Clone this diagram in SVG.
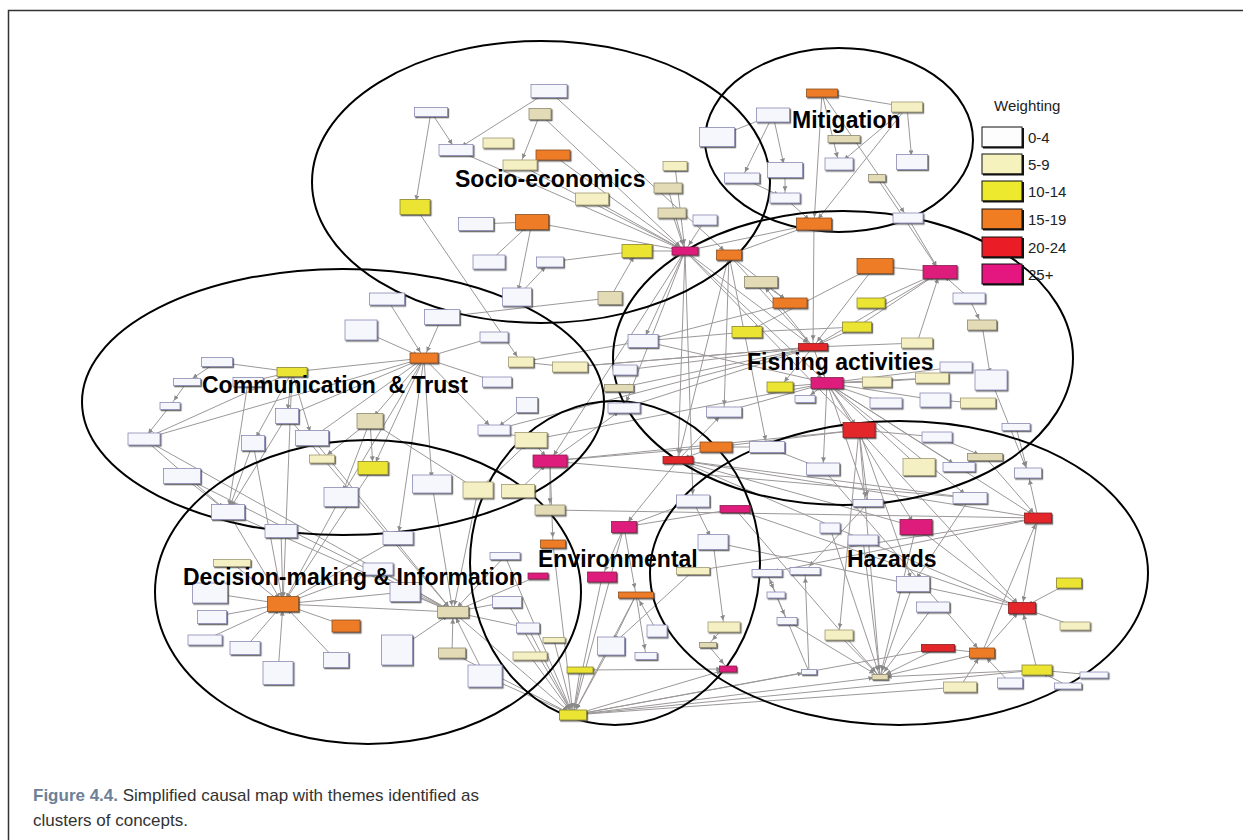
<svg xmlns="http://www.w3.org/2000/svg" width="1243" height="840" viewBox="0 0 1243 840">
<style>
.e line{stroke:#9c9898;stroke-width:1;marker-end:url(#ah)}
.node rect{stroke-width:0.8;filter:url(#sh)}
.n0{fill:#f6f6fd;stroke:#8b8bb3}
.n1{fill:#f4f0c4;stroke:#a09a72}
.nt{fill:#e3dbb6;stroke:#8e8a70}
.n2{fill:#ebe433;stroke:#8a8530}
.n3{fill:#ee7b25;stroke:#8a5020}
.n4{fill:#e3262b;stroke:#8a2020}
.n5{fill:#de1e7c;stroke:#8a2050}
.cl{fill:none;stroke:#000;stroke-width:2}
.lab{font-family:"Liberation Sans",Arial,sans-serif;font-weight:bold;font-size:23px;fill:#000}
.lg{font-family:"Liberation Sans",Arial,sans-serif;font-size:15px;fill:#222}
.lb{stroke:#111;stroke-width:1}
.cap{font-family:"Liberation Sans",Arial,sans-serif;font-size:17px;fill:#333}
</style>
<defs>
<filter id="sh" x="-20%" y="-30%" width="150%" height="180%">
<feDropShadow dx="1.2" dy="1.3" stdDeviation="0.4" flood-color="#444" flood-opacity="0.8"/>
</filter>
<marker id="ah" viewBox="0 0 6 6" refX="14" refY="3" markerWidth="5" markerHeight="5" markerUnits="userSpaceOnUse" orient="auto"><path d="M0,0L6,3L0,6z" fill="#8a8a8a"/></marker>
</defs>
<rect width="1243" height="840" fill="#fff"/>
<path d="M8.5,840V10.5H1243" fill="none" stroke="#333" stroke-width="1.5"/>

<g id="connectors" class="e">
<line x1="431" y1="112" x2="415" y2="207"/>
<line x1="431" y1="112" x2="456" y2="150"/>
<line x1="549" y1="91" x2="456" y2="150"/>
<line x1="540" y1="114" x2="520" y2="165"/>
<line x1="540" y1="114" x2="685" y2="251"/>
<line x1="549" y1="91" x2="729" y2="255"/>
<line x1="456" y1="150" x2="685" y2="251"/>
<line x1="553" y1="155" x2="685" y2="251"/>
<line x1="520" y1="165" x2="685" y2="251"/>
<line x1="592" y1="199" x2="685" y2="251"/>
<line x1="476" y1="224" x2="532" y2="222"/>
<line x1="532" y1="222" x2="685" y2="251"/>
<line x1="415" y1="207" x2="521" y2="362"/>
<line x1="532" y1="222" x2="517" y2="297"/>
<line x1="489" y1="262" x2="532" y2="222"/>
<line x1="550" y1="262" x2="637" y2="251"/>
<line x1="517" y1="297" x2="550" y2="262"/>
<line x1="610" y1="298" x2="442" y2="317"/>
<line x1="610" y1="298" x2="637" y2="251"/>
<line x1="675" y1="166" x2="685" y2="251"/>
<line x1="668" y1="188" x2="685" y2="251"/>
<line x1="672" y1="213" x2="685" y2="251"/>
<line x1="637" y1="251" x2="685" y2="251"/>
<line x1="685" y1="251" x2="813" y2="347"/>
<line x1="685" y1="251" x2="827" y2="383"/>
<line x1="685" y1="251" x2="678" y2="460"/>
<line x1="685" y1="251" x2="643" y2="341"/>
<line x1="685" y1="251" x2="693" y2="501"/>
<line x1="685" y1="251" x2="859" y2="430"/>
<line x1="685" y1="251" x2="624" y2="408"/>
<line x1="685" y1="251" x2="550" y2="461"/>
<line x1="729" y1="255" x2="724" y2="412"/>
<line x1="729" y1="255" x2="678" y2="460"/>
<line x1="729" y1="255" x2="790" y2="303"/>
<line x1="729" y1="255" x2="813" y2="347"/>
<line x1="729" y1="255" x2="767" y2="447"/>
<line x1="814" y1="224" x2="813" y2="347"/>
<line x1="822" y1="93" x2="814" y2="224"/>
<line x1="822" y1="93" x2="907" y2="107"/>
<line x1="822" y1="93" x2="839" y2="164"/>
<line x1="822" y1="93" x2="908" y2="218"/>
<line x1="907" y1="107" x2="912" y2="162"/>
<line x1="907" y1="107" x2="839" y2="164"/>
<line x1="907" y1="107" x2="814" y2="224"/>
<line x1="773" y1="115" x2="717" y2="137"/>
<line x1="773" y1="115" x2="742" y2="178"/>
<line x1="773" y1="115" x2="785" y2="170"/>
<line x1="785" y1="170" x2="785" y2="198"/>
<line x1="742" y1="178" x2="785" y2="198"/>
<line x1="785" y1="198" x2="814" y2="224"/>
<line x1="877" y1="178" x2="940" y2="272"/>
<line x1="814" y1="224" x2="685" y2="251"/>
<line x1="814" y1="224" x2="729" y2="255"/>
<line x1="908" y1="218" x2="940" y2="272"/>
<line x1="705" y1="220" x2="685" y2="251"/>
<line x1="875" y1="266" x2="940" y2="272"/>
<line x1="875" y1="266" x2="813" y2="347"/>
<line x1="875" y1="266" x2="747" y2="332"/>
<line x1="871" y1="303" x2="940" y2="272"/>
<line x1="857" y1="327" x2="940" y2="272"/>
<line x1="917" y1="343" x2="940" y2="272"/>
<line x1="940" y1="272" x2="813" y2="347"/>
<line x1="969" y1="298" x2="940" y2="272"/>
<line x1="761" y1="282" x2="790" y2="303"/>
<line x1="790" y1="303" x2="643" y2="341"/>
<line x1="747" y1="332" x2="643" y2="341"/>
<line x1="857" y1="327" x2="747" y2="332"/>
<line x1="857" y1="327" x2="813" y2="347"/>
<line x1="917" y1="343" x2="813" y2="347"/>
<line x1="813" y1="347" x2="625" y2="370"/>
<line x1="813" y1="347" x2="570" y2="367"/>
<line x1="813" y1="347" x2="624" y2="408"/>
<line x1="813" y1="347" x2="619" y2="388"/>
<line x1="813" y1="347" x2="827" y2="383"/>
<line x1="813" y1="347" x2="780" y2="387"/>
<line x1="813" y1="347" x2="761" y2="282"/>
<line x1="982" y1="325" x2="991" y2="380"/>
<line x1="969" y1="298" x2="982" y2="325"/>
<line x1="877" y1="382" x2="827" y2="383"/>
<line x1="932" y1="378" x2="827" y2="383"/>
<line x1="956" y1="367" x2="827" y2="383"/>
<line x1="827" y1="383" x2="805" y2="399"/>
<line x1="827" y1="383" x2="886" y2="403"/>
<line x1="827" y1="383" x2="935" y2="400"/>
<line x1="827" y1="383" x2="823" y2="469"/>
<line x1="827" y1="383" x2="859" y2="430"/>
<line x1="827" y1="383" x2="916" y2="527"/>
<line x1="827" y1="383" x2="919" y2="467"/>
<line x1="827" y1="383" x2="959" y2="467"/>
<line x1="827" y1="383" x2="868" y2="503"/>
<line x1="827" y1="383" x2="724" y2="412"/>
<line x1="780" y1="387" x2="827" y2="383"/>
<line x1="827" y1="383" x2="643" y2="341"/>
<line x1="827" y1="383" x2="970" y2="498"/>
<line x1="827" y1="383" x2="1038" y2="518"/>
<line x1="932" y1="378" x2="877" y2="382"/>
<line x1="978" y1="403" x2="935" y2="400"/>
<line x1="991" y1="380" x2="1028" y2="473"/>
<line x1="859" y1="430" x2="913" y2="584"/>
<line x1="859" y1="430" x2="880" y2="677"/>
<line x1="859" y1="430" x2="868" y2="503"/>
<line x1="716" y1="447" x2="859" y2="430"/>
<line x1="859" y1="430" x2="839" y2="635"/>
<line x1="716" y1="447" x2="767" y2="447"/>
<line x1="767" y1="447" x2="823" y2="469"/>
<line x1="716" y1="447" x2="678" y2="460"/>
<line x1="1016" y1="427" x2="1028" y2="473"/>
<line x1="937" y1="437" x2="985" y2="457"/>
<line x1="937" y1="437" x2="859" y2="430"/>
<line x1="678" y1="460" x2="1038" y2="518"/>
<line x1="678" y1="460" x2="1022" y2="608"/>
<line x1="678" y1="460" x2="916" y2="527"/>
<line x1="678" y1="460" x2="970" y2="498"/>
<line x1="678" y1="460" x2="724" y2="412"/>
<line x1="550" y1="461" x2="859" y2="430"/>
<line x1="550" y1="461" x2="970" y2="498"/>
<line x1="531" y1="440" x2="827" y2="383"/>
<line x1="494" y1="430" x2="813" y2="347"/>
<line x1="550" y1="461" x2="716" y2="447"/>
<line x1="521" y1="362" x2="643" y2="341"/>
<line x1="570" y1="367" x2="813" y2="347"/>
<line x1="387" y1="299" x2="424" y2="358"/>
<line x1="442" y1="317" x2="424" y2="358"/>
<line x1="361" y1="330" x2="424" y2="358"/>
<line x1="292" y1="372" x2="424" y2="358"/>
<line x1="424" y1="358" x2="144" y2="439"/>
<line x1="424" y1="358" x2="287" y2="416"/>
<line x1="424" y1="358" x2="312" y2="438"/>
<line x1="424" y1="358" x2="370" y2="421"/>
<line x1="424" y1="358" x2="341" y2="497"/>
<line x1="424" y1="358" x2="494" y2="430"/>
<line x1="424" y1="358" x2="432" y2="484"/>
<line x1="497" y1="382" x2="424" y2="358"/>
<line x1="494" y1="337" x2="424" y2="358"/>
<line x1="424" y1="358" x2="373" y2="468"/>
<line x1="424" y1="358" x2="398" y2="538"/>
<line x1="521" y1="362" x2="570" y2="367"/>
<line x1="527" y1="405" x2="494" y2="430"/>
<line x1="494" y1="430" x2="531" y2="440"/>
<line x1="292" y1="372" x2="217" y2="362"/>
<line x1="292" y1="372" x2="248" y2="382"/>
<line x1="292" y1="372" x2="144" y2="439"/>
<line x1="292" y1="372" x2="287" y2="416"/>
<line x1="292" y1="372" x2="253" y2="443"/>
<line x1="292" y1="372" x2="312" y2="438"/>
<line x1="217" y1="362" x2="187" y2="382"/>
<line x1="187" y1="382" x2="170" y2="406"/>
<line x1="170" y1="406" x2="144" y2="439"/>
<line x1="144" y1="439" x2="228" y2="512"/>
<line x1="182" y1="476" x2="228" y2="512"/>
<line x1="253" y1="443" x2="228" y2="512"/>
<line x1="287" y1="416" x2="228" y2="512"/>
<line x1="370" y1="421" x2="322" y2="459"/>
<line x1="370" y1="421" x2="373" y2="468"/>
<line x1="370" y1="421" x2="478" y2="490"/>
<line x1="370" y1="421" x2="341" y2="497"/>
<line x1="432" y1="484" x2="453" y2="612"/>
<line x1="478" y1="490" x2="531" y2="440"/>
<line x1="518" y1="491" x2="550" y2="461"/>
<line x1="248" y1="382" x2="228" y2="512"/>
<line x1="281" y1="531" x2="283" y2="604"/>
<line x1="232" y1="563" x2="283" y2="604"/>
<line x1="210" y1="593" x2="283" y2="604"/>
<line x1="212" y1="617" x2="283" y2="604"/>
<line x1="205" y1="640" x2="283" y2="604"/>
<line x1="245" y1="648" x2="283" y2="604"/>
<line x1="278" y1="673" x2="283" y2="604"/>
<line x1="336" y1="660" x2="283" y2="604"/>
<line x1="346" y1="626" x2="283" y2="604"/>
<line x1="378" y1="569" x2="283" y2="604"/>
<line x1="398" y1="538" x2="283" y2="604"/>
<line x1="228" y1="512" x2="283" y2="604"/>
<line x1="253" y1="443" x2="283" y2="604"/>
<line x1="283" y1="604" x2="453" y2="612"/>
<line x1="405" y1="592" x2="283" y2="604"/>
<line x1="373" y1="468" x2="283" y2="604"/>
<line x1="341" y1="497" x2="283" y2="604"/>
<line x1="292" y1="372" x2="283" y2="604"/>
<line x1="452" y1="653" x2="453" y2="612"/>
<line x1="397" y1="650" x2="453" y2="612"/>
<line x1="485" y1="676" x2="453" y2="612"/>
<line x1="405" y1="592" x2="453" y2="612"/>
<line x1="287" y1="416" x2="453" y2="612"/>
<line x1="312" y1="438" x2="453" y2="612"/>
<line x1="505" y1="556" x2="453" y2="612"/>
<line x1="507" y1="602" x2="453" y2="612"/>
<line x1="528" y1="628" x2="453" y2="612"/>
<line x1="144" y1="439" x2="453" y2="612"/>
<line x1="182" y1="476" x2="453" y2="612"/>
<line x1="478" y1="490" x2="453" y2="612"/>
<line x1="378" y1="569" x2="453" y2="612"/>
<line x1="228" y1="512" x2="453" y2="612"/>
<line x1="538" y1="576" x2="453" y2="612"/>
<line x1="550" y1="461" x2="553" y2="544"/>
<line x1="550" y1="461" x2="550" y2="510"/>
<line x1="550" y1="461" x2="624" y2="408"/>
<line x1="531" y1="440" x2="550" y2="461"/>
<line x1="507" y1="602" x2="573" y2="715"/>
<line x1="528" y1="628" x2="573" y2="715"/>
<line x1="530" y1="656" x2="573" y2="715"/>
<line x1="611" y1="646" x2="573" y2="715"/>
<line x1="580" y1="670" x2="573" y2="715"/>
<line x1="485" y1="676" x2="573" y2="715"/>
<line x1="453" y1="612" x2="573" y2="715"/>
<line x1="602" y1="577" x2="573" y2="715"/>
<line x1="636" y1="595" x2="573" y2="715"/>
<line x1="573" y1="715" x2="728" y2="669"/>
<line x1="573" y1="715" x2="880" y2="677"/>
<line x1="573" y1="715" x2="938" y2="648"/>
<line x1="573" y1="715" x2="1037" y2="670"/>
<line x1="573" y1="715" x2="809" y2="672"/>
<line x1="554" y1="640" x2="573" y2="715"/>
<line x1="553" y1="544" x2="573" y2="715"/>
<line x1="624" y1="527" x2="573" y2="715"/>
<line x1="505" y1="556" x2="573" y2="715"/>
<line x1="452" y1="653" x2="573" y2="715"/>
<line x1="573" y1="715" x2="960" y2="687"/>
<line x1="624" y1="527" x2="602" y2="577"/>
<line x1="624" y1="527" x2="636" y2="595"/>
<line x1="693" y1="501" x2="624" y2="527"/>
<line x1="678" y1="460" x2="624" y2="527"/>
<line x1="693" y1="501" x2="713" y2="542"/>
<line x1="713" y1="542" x2="724" y2="627"/>
<line x1="693" y1="571" x2="611" y2="646"/>
<line x1="636" y1="595" x2="611" y2="646"/>
<line x1="636" y1="595" x2="646" y2="656"/>
<line x1="657" y1="631" x2="636" y2="595"/>
<line x1="724" y1="627" x2="708" y2="645"/>
<line x1="708" y1="645" x2="728" y2="669"/>
<line x1="580" y1="670" x2="728" y2="669"/>
<line x1="735" y1="509" x2="624" y2="527"/>
<line x1="693" y1="571" x2="1038" y2="518"/>
<line x1="550" y1="510" x2="1038" y2="518"/>
<line x1="787" y1="621" x2="880" y2="677"/>
<line x1="913" y1="584" x2="880" y2="677"/>
<line x1="863" y1="540" x2="880" y2="677"/>
<line x1="938" y1="648" x2="880" y2="677"/>
<line x1="982" y1="653" x2="880" y2="677"/>
<line x1="839" y1="635" x2="880" y2="677"/>
<line x1="933" y1="607" x2="880" y2="677"/>
<line x1="830" y1="528" x2="880" y2="677"/>
<line x1="735" y1="509" x2="880" y2="677"/>
<line x1="809" y1="672" x2="805" y2="571"/>
<line x1="809" y1="672" x2="767" y2="573"/>
<line x1="767" y1="573" x2="776" y2="595"/>
<line x1="776" y1="595" x2="787" y2="621"/>
<line x1="1069" y1="583" x2="1022" y2="608"/>
<line x1="1075" y1="626" x2="1022" y2="608"/>
<line x1="1038" y1="518" x2="1022" y2="608"/>
<line x1="982" y1="653" x2="1022" y2="608"/>
<line x1="1037" y1="670" x2="1022" y2="608"/>
<line x1="916" y1="527" x2="1022" y2="608"/>
<line x1="1022" y1="608" x2="735" y2="509"/>
<line x1="982" y1="653" x2="938" y2="648"/>
<line x1="960" y1="687" x2="982" y2="653"/>
<line x1="1010" y1="683" x2="982" y2="653"/>
<line x1="982" y1="653" x2="1038" y2="518"/>
<line x1="823" y1="469" x2="982" y2="653"/>
<line x1="1094" y1="675" x2="1037" y2="670"/>
<line x1="1068" y1="686" x2="1037" y2="670"/>
<line x1="1037" y1="670" x2="880" y2="677"/>
<line x1="1038" y1="518" x2="767" y2="573"/>
<line x1="1038" y1="518" x2="1028" y2="473"/>
<line x1="985" y1="457" x2="1038" y2="518"/>
<line x1="916" y1="527" x2="880" y2="677"/>
<line x1="868" y1="503" x2="805" y2="571"/>
<line x1="970" y1="498" x2="913" y2="584"/>
<line x1="859" y1="430" x2="1022" y2="608"/>
<line x1="713" y1="542" x2="1022" y2="608"/>
</g>

<g id="clusters">
<ellipse class="cl" cx="541" cy="182" rx="229" ry="141"/>
<ellipse class="cl" cx="839" cy="140" rx="134" ry="92"/>
<ellipse class="cl" cx="343" cy="402" rx="261" ry="133"/>
<ellipse class="cl" cx="843" cy="358" rx="230" ry="147"/>
<ellipse class="cl" cx="368" cy="592" rx="213" ry="152"/>
<ellipse class="cl" cx="615" cy="563" rx="145" ry="162"/>
<ellipse class="cl" cx="899" cy="573" rx="249" ry="152"/>
</g>

<g id="nodes">
<g id="s1" class="node" transform="translate(549,91)"><rect class="n0" x="-18" y="-6.5" width="36" height="13"/></g>
<g id="s2" class="node" transform="translate(431,112)"><rect class="n0" x="-16.5" y="-4.5" width="33" height="9"/></g>
<g id="s3" class="node" transform="translate(540,114)"><rect class="nt" x="-11" y="-5.5" width="22" height="11"/></g>
<g id="s4" class="node" transform="translate(456,150)"><rect class="n0" x="-17" y="-5.5" width="34" height="11"/></g>
<g id="s5" class="node" transform="translate(498,143)"><rect class="n1" x="-15" y="-5" width="30" height="10"/></g>
<g id="s6" class="node" transform="translate(553,155)"><rect class="n3" x="-17" y="-5" width="34" height="10"/></g>
<g id="s7" class="node" transform="translate(520,165)"><rect class="n1" x="-17" y="-5" width="34" height="10"/></g>
<g id="s8" class="node" transform="translate(415,207)"><rect class="n2" x="-15" y="-7.5" width="30" height="15"/></g>
<g id="s9" class="node" transform="translate(476,224)"><rect class="n0" x="-17.5" y="-6.5" width="35" height="13"/></g>
<g id="s10" class="node" transform="translate(532,222)"><rect class="n3" x="-16.5" y="-7.5" width="33" height="15"/></g>
<g id="s11" class="node" transform="translate(592,199)"><rect class="n1" x="-16.5" y="-6" width="33" height="12"/></g>
<g id="s12" class="node" transform="translate(675,166)"><rect class="n1" x="-12" y="-4.5" width="24" height="9"/></g>
<g id="s13" class="node" transform="translate(668,188)"><rect class="nt" x="-14" y="-5" width="28" height="10"/></g>
<g id="s14" class="node" transform="translate(672,213)"><rect class="nt" x="-14" y="-5" width="28" height="10"/></g>
<g id="s15" class="node" transform="translate(489,262)"><rect class="n0" x="-16" y="-7" width="32" height="14"/></g>
<g id="s16" class="node" transform="translate(550,262)"><rect class="n0" x="-13.5" y="-5" width="27" height="10"/></g>
<g id="s17" class="node" transform="translate(517,297)"><rect class="n0" x="-14.5" y="-9" width="29" height="18"/></g>
<g id="s18" class="node" transform="translate(610,298)"><rect class="nt" x="-12" y="-6.5" width="24" height="13"/></g>
<g id="s19" class="node" transform="translate(637,251)"><rect class="n2" x="-15" y="-6.5" width="30" height="13"/></g>
<g id="h1hub" class="node" transform="translate(685,251)"><rect class="n5" x="-13" y="-4" width="26" height="8"/></g>

<g id="m1" class="node" transform="translate(822,93)"><rect class="n3" x="-15.5" y="-4" width="31" height="8"/></g>
<g id="m2" class="node" transform="translate(907,107)"><rect class="n1" x="-15.5" y="-5" width="31" height="10"/></g>
<g id="m3" class="node" transform="translate(773,115)"><rect class="n0" x="-16.5" y="-7" width="33" height="14"/></g>
<g id="m4" class="node" transform="translate(717,137)"><rect class="n0" x="-17.5" y="-9.5" width="35" height="19"/></g>
<g id="m5" class="node" transform="translate(844,139)"><rect class="nt" x="-16" y="-3.5" width="32" height="7"/></g>
<g id="m6" class="node" transform="translate(839,164)"><rect class="n0" x="-14" y="-6" width="28" height="12"/></g>
<g id="m7" class="node" transform="translate(912,162)"><rect class="n0" x="-15.5" y="-7.5" width="31" height="15"/></g>
<g id="m8" class="node" transform="translate(785,170)"><rect class="n0" x="-17.5" y="-7.5" width="35" height="15"/></g>
<g id="m9" class="node" transform="translate(877,178)"><rect class="nt" x="-8.5" y="-3.5" width="17" height="7"/></g>
<g id="m10" class="node" transform="translate(742,178)"><rect class="n0" x="-17.5" y="-5" width="35" height="10"/></g>
<g id="m11" class="node" transform="translate(785,198)"><rect class="n0" x="-15" y="-5" width="30" height="10"/></g>
<g id="m12" class="node" transform="translate(705,220)"><rect class="n0" x="-12" y="-5" width="24" height="10"/></g>
<g id="m13" class="node" transform="translate(908,218)"><rect class="n0" x="-15" y="-5" width="30" height="10"/></g>
<g id="m14" class="node" transform="translate(814,224)"><rect class="n3" x="-17.5" y="-6" width="35" height="12"/></g>

<g id="f1" class="node" transform="translate(729,255)"><rect class="n3" x="-12.5" y="-5" width="25" height="10"/></g>
<g id="f2" class="node" transform="translate(875,266)"><rect class="n3" x="-18" y="-7.5" width="36" height="15"/></g>
<g id="f3" class="node" transform="translate(940,272)"><rect class="n5" x="-17" y="-6.5" width="34" height="13"/></g>
<g id="f4" class="node" transform="translate(761,282)"><rect class="nt" x="-16.5" y="-5.5" width="33" height="11"/></g>
<g id="f5" class="node" transform="translate(790,303)"><rect class="n3" x="-17" y="-5" width="34" height="10"/></g>
<g id="f6" class="node" transform="translate(871,303)"><rect class="n2" x="-14" y="-5" width="28" height="10"/></g>
<g id="f7" class="node" transform="translate(969,298)"><rect class="n0" x="-16" y="-5" width="32" height="10"/></g>
<g id="f8" class="node" transform="translate(982,325)"><rect class="nt" x="-14.5" y="-5" width="29" height="10"/></g>
<g id="f9" class="node" transform="translate(747,332)"><rect class="n2" x="-15" y="-5.5" width="30" height="11"/></g>
<g id="f10" class="node" transform="translate(857,327)"><rect class="n2" x="-14.5" y="-5" width="29" height="10"/></g>
<g id="f11" class="node" transform="translate(643,341)"><rect class="n0" x="-15" y="-6.5" width="30" height="13"/></g>
<g id="f12" class="node" transform="translate(917,343)"><rect class="n1" x="-15.5" y="-5" width="31" height="10"/></g>
<g id="fhub" class="node" transform="translate(813,347)"><rect class="n4" x="-14.5" y="-3.5" width="29" height="7"/></g>
<g id="f13" class="node" transform="translate(625,370)"><rect class="n0" x="-12" y="-5" width="24" height="10"/></g>
<g id="f14" class="node" transform="translate(956,367)"><rect class="n0" x="-16" y="-5" width="32" height="10"/></g>
<g id="f15" class="node" transform="translate(991,380)"><rect class="n0" x="-16" y="-10" width="32" height="20"/></g>
<g id="f16" class="node" transform="translate(932,378)"><rect class="n1" x="-16.5" y="-5" width="33" height="10"/></g>
<g id="f17" class="node" transform="translate(877,382)"><rect class="n1" x="-14.5" y="-5" width="29" height="10"/></g>
<g id="fmhub" class="node" transform="translate(827,383)"><rect class="n5" x="-16" y="-5.5" width="32" height="11"/></g>
<g id="f18" class="node" transform="translate(780,387)"><rect class="n2" x="-13" y="-5" width="26" height="10"/></g>
<g id="f19" class="node" transform="translate(805,399)"><rect class="n0" x="-10" y="-3.5" width="20" height="7"/></g>
<g id="f20" class="node" transform="translate(886,403)"><rect class="n0" x="-16" y="-5" width="32" height="10"/></g>
<g id="f21" class="node" transform="translate(935,400)"><rect class="n0" x="-15" y="-7" width="30" height="14"/></g>
<g id="f22" class="node" transform="translate(978,403)"><rect class="n1" x="-17.5" y="-5" width="35" height="10"/></g>
<g id="f23" class="node" transform="translate(724,412)"><rect class="n0" x="-17.5" y="-5" width="35" height="10"/></g>
<g id="f24" class="node" transform="translate(624,408)"><rect class="n0" x="-16" y="-5" width="32" height="10"/></g>
<g id="f25" class="node" transform="translate(619,388)"><rect class="nt" x="-14.5" y="-3.5" width="29" height="7"/></g>
<g id="frhub" class="node" transform="translate(859,430)"><rect class="n4" x="-16" y="-7.5" width="32" height="15"/></g>
<g id="f26" class="node" transform="translate(937,437)"><rect class="n0" x="-15" y="-5" width="30" height="10"/></g>
<g id="f27" class="node" transform="translate(716,447)"><rect class="n3" x="-16" y="-5" width="32" height="10"/></g>
<g id="f28" class="node" transform="translate(767,447)"><rect class="n0" x="-17.5" y="-5.5" width="35" height="11"/></g>
<g id="f29" class="node" transform="translate(985,457)"><rect class="nt" x="-17.5" y="-3.5" width="35" height="7"/></g>
<g id="f30" class="node" transform="translate(823,469)"><rect class="n0" x="-16.5" y="-6" width="33" height="12"/></g>
<g id="f31" class="node" transform="translate(919,467)"><rect class="n1" x="-16" y="-8.5" width="32" height="17"/></g>
<g id="f32" class="node" transform="translate(959,467)"><rect class="n0" x="-16" y="-4.5" width="32" height="9"/></g>
<g id="f33" class="node" transform="translate(1016,427)"><rect class="n0" x="-14" y="-3.5" width="28" height="7"/></g>
<g id="f34" class="node" transform="translate(1028,473)"><rect class="n0" x="-13.5" y="-5" width="27" height="10"/></g>

<g id="c1" class="node" transform="translate(387,299)"><rect class="n0" x="-17.5" y="-6" width="35" height="12"/></g>
<g id="c2" class="node" transform="translate(442,317)"><rect class="n0" x="-17.5" y="-7.5" width="35" height="15"/></g>
<g id="c3" class="node" transform="translate(361,330)"><rect class="n0" x="-16" y="-10" width="32" height="20"/></g>
<g id="chub" class="node" transform="translate(424,358)"><rect class="n3" x="-14" y="-5" width="28" height="10"/></g>
<g id="c4" class="node" transform="translate(494,337)"><rect class="n0" x="-14" y="-5" width="28" height="10"/></g>
<g id="c5" class="node" transform="translate(521,362)"><rect class="n1" x="-12.5" y="-5" width="25" height="10"/></g>
<g id="c6" class="node" transform="translate(570,367)"><rect class="n1" x="-17.5" y="-5" width="35" height="10"/></g>
<g id="c7" class="node" transform="translate(497,382)"><rect class="n0" x="-14.5" y="-5" width="29" height="10"/></g>
<g id="c8" class="node" transform="translate(527,405)"><rect class="n0" x="-10.5" y="-7.5" width="21" height="15"/></g>
<g id="c9" class="node" transform="translate(494,430)"><rect class="n0" x="-16" y="-5" width="32" height="10"/></g>
<g id="c10" class="node" transform="translate(531,440)"><rect class="n1" x="-16" y="-7.5" width="32" height="15"/></g>
<g id="c11" class="node" transform="translate(217,362)"><rect class="n0" x="-15.5" y="-4.5" width="31" height="9"/></g>
<g id="c12" class="node" transform="translate(292,372)"><rect class="n2" x="-15" y="-4.5" width="30" height="9"/></g>
<g id="c13" class="node" transform="translate(187,382)"><rect class="n0" x="-13.5" y="-3.5" width="27" height="7"/></g>
<g id="c14" class="node" transform="translate(248,382)"><rect class="n0" x="-15" y="-4.5" width="30" height="9"/></g>
<g id="c15" class="node" transform="translate(170,406)"><rect class="n0" x="-10" y="-3.5" width="20" height="7"/></g>
<g id="c16" class="node" transform="translate(287,416)"><rect class="n0" x="-11.5" y="-7.5" width="23" height="15"/></g>
<g id="c17" class="node" transform="translate(370,421)"><rect class="nt" x="-13" y="-7.5" width="26" height="15"/></g>
<g id="c18" class="node" transform="translate(144,439)"><rect class="n0" x="-16" y="-6" width="32" height="12"/></g>
<g id="c19" class="node" transform="translate(253,443)"><rect class="n0" x="-11.5" y="-7.5" width="23" height="15"/></g>
<g id="c20" class="node" transform="translate(312,438)"><rect class="n0" x="-16.5" y="-7.5" width="33" height="15"/></g>
<g id="c21" class="node" transform="translate(182,476)"><rect class="n0" x="-18.5" y="-7.5" width="37" height="15"/></g>
<g id="c22" class="node" transform="translate(322,459)"><rect class="n1" x="-12.5" y="-4" width="25" height="8"/></g>
<g id="c23" class="node" transform="translate(373,468)"><rect class="n2" x="-15" y="-6.5" width="30" height="13"/></g>
<g id="c24" class="node" transform="translate(228,512)"><rect class="n0" x="-16.5" y="-7.5" width="33" height="15"/></g>
<g id="c25" class="node" transform="translate(341,497)"><rect class="n0" x="-17" y="-9.5" width="34" height="19"/></g>
<g id="c26" class="node" transform="translate(432,484)"><rect class="n0" x="-19.5" y="-9" width="39" height="18"/></g>
<g id="c27" class="node" transform="translate(478,490)"><rect class="n1" x="-15" y="-8" width="30" height="16"/></g>
<g id="c28" class="node" transform="translate(518,491)"><rect class="n1" x="-16.5" y="-6.5" width="33" height="13"/></g>
<g id="e0" class="node" transform="translate(550,461)"><rect class="n5" x="-17" y="-6" width="34" height="12"/></g>
<g id="r1" class="node" transform="translate(678,460)"><rect class="n4" x="-15" y="-3.5" width="30" height="7"/></g>

<g id="d1" class="node" transform="translate(281,531)"><rect class="n0" x="-16" y="-6.5" width="32" height="13"/></g>
<g id="d2" class="node" transform="translate(398,538)"><rect class="n0" x="-15" y="-6.5" width="30" height="13"/></g>
<g id="d3" class="node" transform="translate(232,563)"><rect class="n1" x="-18.5" y="-3.5" width="37" height="7"/></g>
<g id="d4" class="node" transform="translate(378,569)"><rect class="n0" x="-15" y="-6" width="30" height="12"/></g>
<g id="d5" class="node" transform="translate(210,593)"><rect class="n0" x="-17.5" y="-10" width="35" height="20"/></g>
<g id="d6" class="node" transform="translate(405,592)"><rect class="n0" x="-15" y="-9.5" width="30" height="19"/></g>
<g id="dhub" class="node" transform="translate(283,604)"><rect class="n3" x="-15.5" y="-7.5" width="31" height="15"/></g>
<g id="d7" class="node" transform="translate(212,617)"><rect class="n0" x="-14.5" y="-6.5" width="29" height="13"/></g>
<g id="dhub2" class="node" transform="translate(453,612)"><rect class="nt" x="-15.5" y="-5.5" width="31" height="11"/></g>
<g id="d8" class="node" transform="translate(346,626)"><rect class="n3" x="-14" y="-6" width="28" height="12"/></g>
<g id="d9" class="node" transform="translate(205,640)"><rect class="n0" x="-17" y="-5" width="34" height="10"/></g>
<g id="d10" class="node" transform="translate(245,648)"><rect class="n0" x="-15" y="-6.5" width="30" height="13"/></g>
<g id="d11" class="node" transform="translate(397,650)"><rect class="n0" x="-15.5" y="-15" width="31" height="30"/></g>
<g id="d12" class="node" transform="translate(452,653)"><rect class="nt" x="-13.5" y="-5" width="27" height="10"/></g>
<g id="d13" class="node" transform="translate(336,660)"><rect class="n0" x="-12.5" y="-7.5" width="25" height="15"/></g>
<g id="d14" class="node" transform="translate(278,673)"><rect class="n0" x="-15" y="-11.5" width="30" height="23"/></g>
<g id="d15" class="node" transform="translate(485,676)"><rect class="n0" x="-17" y="-11" width="34" height="22"/></g>

<g id="e1" class="node" transform="translate(550,510)"><rect class="nt" x="-15" y="-5" width="30" height="10"/></g>
<g id="e2" class="node" transform="translate(693,501)"><rect class="n0" x="-16.5" y="-6" width="33" height="12"/></g>
<g id="e3" class="node" transform="translate(735,509)"><rect class="n5" x="-15" y="-3.5" width="30" height="7"/></g>
<g id="e4" class="node" transform="translate(624,527)"><rect class="n5" x="-12.5" y="-5.5" width="25" height="11"/></g>
<g id="e5" class="node" transform="translate(553,544)"><rect class="n3" x="-12.5" y="-4" width="25" height="8"/></g>
<g id="e6" class="node" transform="translate(713,542)"><rect class="n0" x="-15" y="-7.5" width="30" height="15"/></g>
<g id="e7" class="node" transform="translate(505,556)"><rect class="n0" x="-15" y="-3.5" width="30" height="7"/></g>
<g id="e8" class="node" transform="translate(693,571)"><rect class="n1" x="-16.5" y="-3.5" width="33" height="7"/></g>
<g id="e9" class="node" transform="translate(538,576)"><rect class="n5" x="-10" y="-3" width="20" height="6"/></g>
<g id="e10" class="node" transform="translate(602,577)"><rect class="n5" x="-14.5" y="-5" width="29" height="10"/></g>
<g id="e11" class="node" transform="translate(636,595)"><rect class="n3" x="-17.5" y="-3" width="35" height="6"/></g>
<g id="e12" class="node" transform="translate(507,602)"><rect class="n0" x="-14.5" y="-5.5" width="29" height="11"/></g>
<g id="e13" class="node" transform="translate(528,628)"><rect class="n0" x="-11.5" y="-5" width="23" height="10"/></g>
<g id="e14" class="node" transform="translate(657,631)"><rect class="n0" x="-10" y="-6" width="20" height="12"/></g>
<g id="e15" class="node" transform="translate(724,627)"><rect class="n1" x="-16" y="-5" width="32" height="10"/></g>
<g id="e16" class="node" transform="translate(554,640)"><rect class="n1" x="-11" y="-2.5" width="22" height="5"/></g>
<g id="e17" class="node" transform="translate(611,646)"><rect class="n0" x="-13.5" y="-9" width="27" height="18"/></g>
<g id="e18" class="node" transform="translate(708,645)"><rect class="nt" x="-8.5" y="-2.5" width="17" height="5"/></g>
<g id="e19" class="node" transform="translate(530,656)"><rect class="n1" x="-17" y="-4" width="34" height="8"/></g>
<g id="e20" class="node" transform="translate(646,656)"><rect class="n0" x="-11" y="-3.5" width="22" height="7"/></g>
<g id="e21" class="node" transform="translate(580,670)"><rect class="n2" x="-13" y="-3" width="26" height="6"/></g>
<g id="e22" class="node" transform="translate(728,669)"><rect class="n5" x="-8.5" y="-3" width="17" height="6"/></g>
<g id="ebhub" class="node" transform="translate(573,715)"><rect class="n2" x="-13.5" y="-5" width="27" height="10"/></g>

<g id="h1" class="node" transform="translate(970,498)"><rect class="n0" x="-17" y="-5.5" width="34" height="11"/></g>
<g id="h2" class="node" transform="translate(868,503)"><rect class="n0" x="-15" y="-3.5" width="30" height="7"/></g>
<g id="h3" class="node" transform="translate(1038,518)"><rect class="n4" x="-13.5" y="-5" width="27" height="10"/></g>
<g id="h4" class="node" transform="translate(916,527)"><rect class="n5" x="-16" y="-7.5" width="32" height="15"/></g>
<g id="h5" class="node" transform="translate(830,528)"><rect class="n0" x="-10" y="-5" width="20" height="10"/></g>
<g id="h6" class="node" transform="translate(863,540)"><rect class="n0" x="-15" y="-5" width="30" height="10"/></g>
<g id="h7" class="node" transform="translate(767,573)"><rect class="n0" x="-15" y="-3.5" width="30" height="7"/></g>
<g id="h8" class="node" transform="translate(805,571)"><rect class="n0" x="-15" y="-3.5" width="30" height="7"/></g>
<g id="h9" class="node" transform="translate(913,584)"><rect class="n0" x="-16.5" y="-7.5" width="33" height="15"/></g>
<g id="h10" class="node" transform="translate(1069,583)"><rect class="n2" x="-12.5" y="-5" width="25" height="10"/></g>
<g id="h11" class="node" transform="translate(776,595)"><rect class="n0" x="-9" y="-3" width="18" height="6"/></g>
<g id="h12" class="node" transform="translate(933,607)"><rect class="n0" x="-16.5" y="-5" width="33" height="10"/></g>
<g id="hrhub" class="node" transform="translate(1022,608)"><rect class="n4" x="-13.5" y="-5.5" width="27" height="11"/></g>
<g id="h13" class="node" transform="translate(787,621)"><rect class="n0" x="-10" y="-3.5" width="20" height="7"/></g>
<g id="h14" class="node" transform="translate(1075,626)"><rect class="n1" x="-15" y="-4" width="30" height="8"/></g>
<g id="h15" class="node" transform="translate(839,635)"><rect class="n1" x="-14" y="-5" width="28" height="10"/></g>
<g id="h16" class="node" transform="translate(938,648)"><rect class="n4" x="-16.5" y="-3.5" width="33" height="7"/></g>
<g id="h17" class="node" transform="translate(982,653)"><rect class="n3" x="-12.5" y="-5" width="25" height="10"/></g>
<g id="h18" class="node" transform="translate(1037,670)"><rect class="n2" x="-15" y="-5" width="30" height="10"/></g>
<g id="h19" class="node" transform="translate(1094,675)"><rect class="n0" x="-14" y="-3" width="28" height="6"/></g>
<g id="h20" class="node" transform="translate(809,672)"><rect class="n0" x="-7.5" y="-2.5" width="15" height="5"/></g>
<g id="hbhub" class="node" transform="translate(880,677)"><rect class="nt" x="-8" y="-2.5" width="16" height="5"/></g>
<g id="h21" class="node" transform="translate(960,687)"><rect class="n1" x="-16.5" y="-5" width="33" height="10"/></g>
<g id="h22" class="node" transform="translate(1010,683)"><rect class="n0" x="-12.5" y="-5" width="25" height="10"/></g>
<g id="h23" class="node" transform="translate(1068,686)"><rect class="n0" x="-13.5" y="-3" width="27" height="6"/></g>
</g>

<g id="cluster-labels">
<text class="lab" x="455" y="187">Socio-economics</text>
<text class="lab" x="792" y="128">Mitigation</text>
<text class="lab" x="202" y="393" xml:space="preserve">Communication  &amp; Trust</text>
<text class="lab" x="747" y="370">Fishing activities</text>
<text class="lab" x="538" y="567">Environmental</text>
<text class="lab" x="847" y="567">Hazards</text>
<text class="lab" x="183" y="585">Decision-making &amp; Information</text>
</g>

<g id="legend">
<text class="lg" x="994" y="111">Weighting</text>
<rect class="lb" x="982" y="127" width="40" height="20" fill="#fdfdfd"/>
<path d="M983,147.5H1023V128" fill="none" stroke="#111" stroke-width="2"/>
<rect class="lb" x="982" y="154" width="40" height="20" fill="#f6f2bd"/>
<path d="M983,174.5H1023V155" fill="none" stroke="#111" stroke-width="2"/>
<rect class="lb" x="982" y="181" width="40" height="20" fill="#ece92f"/>
<path d="M983,201.5H1023V182" fill="none" stroke="#111" stroke-width="2"/>
<rect class="lb" x="982" y="209" width="40" height="20" fill="#f07d22"/>
<path d="M983,229.5H1023V210" fill="none" stroke="#111" stroke-width="2"/>
<rect class="lb" x="982" y="237" width="40" height="20" fill="#ea1c26"/>
<path d="M983,257.5H1023V238" fill="none" stroke="#111" stroke-width="2"/>
<rect class="lb" x="982" y="264" width="40" height="20" fill="#e3177f"/>
<path d="M983,284.5H1023V265" fill="none" stroke="#111" stroke-width="2"/>
<text class="lg" x="1028" y="143">0-4</text>
<text class="lg" x="1028" y="170">5-9</text>
<text class="lg" x="1028" y="197">10-14</text>
<text class="lg" x="1028" y="225">15-19</text>
<text class="lg" x="1028" y="253">20-24</text>
<text class="lg" x="1028" y="280">25+</text>
</g>

<g id="caption">
<text class="cap" x="33" y="801"><tspan font-weight="bold" fill="#6c8196">Figure 4.4.</tspan> Simplified causal map with themes identified as</text>
<text class="cap" x="33" y="826">clusters of concepts.</text>
</g>
</svg>
